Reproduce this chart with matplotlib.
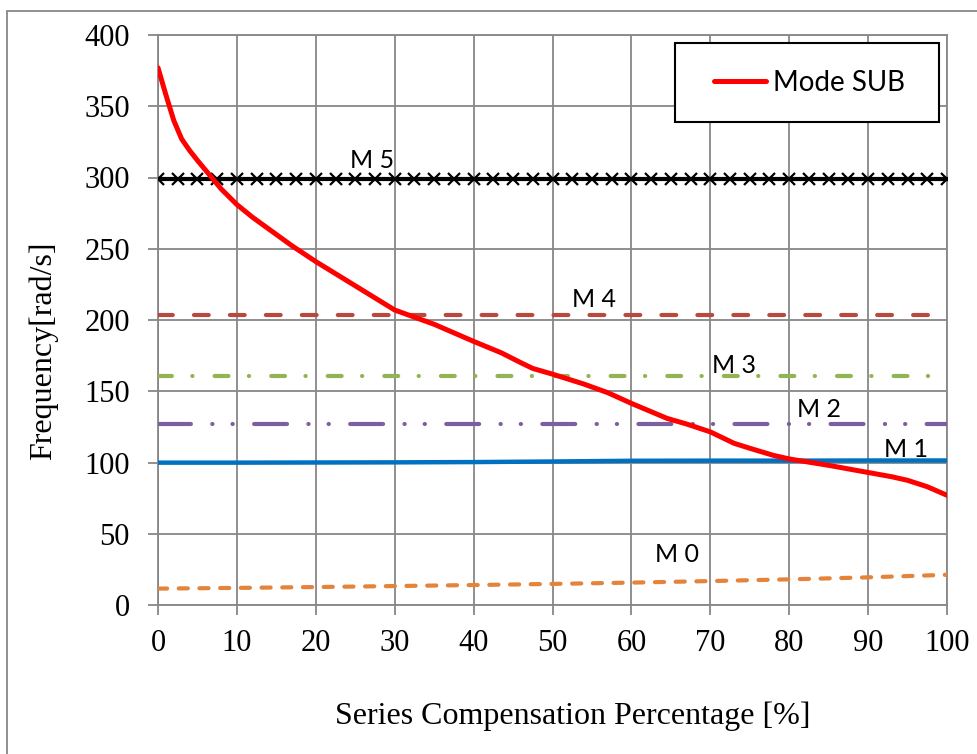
import matplotlib
matplotlib.use("Agg")
import matplotlib.pyplot as plt
from matplotlib.patches import Rectangle

# series compensation level [%]
comp = [0, 10, 20, 30, 40, 50, 60, 70, 80, 90, 100]

# torsional modes (rad/s)
m0 = [11.5, 12.0, 12.6, 13.3, 14.0, 14.8, 15.7, 16.8, 18.0, 19.4, 21.2]
m1 = [99.9, 99.9, 100.0, 100.1, 100.3, 100.7, 101.2, 101.3, 101.3, 101.4, 101.4]
m2 = [127.0, 127.0, 127.0, 127.0, 127.0, 127.0, 127.0, 127.0, 127.0, 127.0, 127.0]
m3 = [161.0, 161.0, 161.0, 161.0, 161.0, 161.0, 161.0, 161.0, 161.0, 161.0, 161.0]
m4 = [203.5, 203.5, 203.5, 203.5, 203.5, 203.5, 203.5, 203.5, 203.5, 203.5, 203.5]

# M5 was computed on a finer grid
comp_m5 = [0, 2.5, 5, 7.5, 10, 12.5, 15, 17.5, 20, 22.5, 25, 27.5, 30, 32.5,
           35, 37.5, 40, 42.5, 45, 47.5, 50, 52.5, 55, 57.5, 60, 62.5, 65,
           67.5, 70, 72.5, 75, 77.5, 80, 82.5, 85, 87.5, 90, 92.5, 95, 97.5, 100]
m5 = [299, 299, 299, 299, 299, 299, 299, 299, 299, 299, 299, 299, 299, 299,
      299, 299, 299, 299, 299, 299, 299, 299, 299, 299, 299, 299, 299,
      299, 299, 299, 299, 299, 299, 299, 299, 299, 299, 299, 299, 299, 299]

# subsynchronous electrical mode
comp_sub = [0, 1, 2, 3, 4, 5, 6.5, 8, 10, 12, 14, 17, 20, 25, 30, 32.5, 35,
            40, 43.5, 46, 47.5, 50, 54, 57, 60, 64.5, 67, 70, 73, 75, 78, 80,
            85, 90, 93, 95, 97.5, 100]
mode_sub = [377, 358, 340, 327, 319, 312, 302, 292, 281, 272, 264, 252, 241,
            224, 207, 202, 197, 185, 177, 170, 166, 162, 155, 149, 141.5, 131,
            127, 121.5, 113.5, 110, 105, 102.5, 98, 93, 90, 87.5, 83, 77]

mode_labels = ['M 0', 'M 1', 'M 2', 'M 3', 'M 4', 'M 5']
label_x = [65.8, 94.8, 83.8, 73.0, 55.3, 27.1]
label_y = [30.2, 103.9, 131.9, 162.8, 209.1, 306.7]

GRID = '#878787'
SERIF = 'Liberation Serif'
SANS = 'Lato'

fig = plt.figure(figsize=(9.77, 7.54), dpi=100)
ax = fig.add_axes([158 / 977, 1 - 605 / 754, 789 / 977, 570 / 754])

lw = 3.0
ax.plot(comp, m0, color='#E3843A', lw=lw, dash_capstyle='round',
        linestyle=(0, (2.19, 2.78)), zorder=3)
ax.plot(comp, m1, color='#0070C0', lw=3.2, solid_capstyle='butt', zorder=3)
ax.plot(comp, m2, color='#7D5F9F', lw=lw, dash_capstyle='round',
        linestyle=(0, (7.9, 5.13, 0.05, 4.8, 0.05, 5.13)), zorder=3)
ax.plot(comp, m3, color='#93B454', lw=lw, dash_capstyle='round',
        linestyle=(0, (3.33, 4.9, 0.05, 5.3)), zorder=3)
ax.plot(comp, m4, color='#B9483F', lw=lw, dash_capstyle='round',
        linestyle=(0, (3.55, 5.08)), zorder=3)
ax.plot(comp_m5, m5, color='black', lw=3.0, marker='x', markersize=8.5,
        markeredgewidth=1.6, zorder=3)
ax.plot(comp_sub, mode_sub, color='#FF0000', lw=3.6, solid_capstyle='round',
        solid_joinstyle='round', label='Mode SUB', zorder=4)

for txt, x, y in zip(mode_labels, label_x, label_y):
    ax.text(x, y, txt, family=SANS, fontsize=18, ha='center', va='baseline',
            zorder=6)

ax.set_xlim(0, 100)
ax.set_ylim(0, 400)
ax.set_xticks(range(0, 101, 10))
ax.set_yticks(range(0, 401, 50))
ax.grid(True, color=GRID, lw=1.3, zorder=1)
ax.set_axisbelow(True)
for side in ax.spines.values():
    side.set_color(GRID)
    side.set_linewidth(1.3)
ax.tick_params(axis='both', direction='out', length=7.2, width=1.3,
               color=GRID, labelsize=22)
ax.tick_params(axis='x', pad=10)
ax.tick_params(axis='y', pad=13)
for lab in ax.get_xticklabels() + ax.get_yticklabels():
    lab.set_family(SERIF)

ax.set_ylabel('Frequency[rad/s]', family=SERIF, fontsize=23)
ax.yaxis.set_label_coords(-0.127, (605 - 351) / 570)
fig.text(573 / 977, 1 - 716 / 754, 'Series Compensation Percentage [%]',
         family=SERIF, fontsize=23, ha='center', va='center')

# legend box, then the entry inside it
ax.add_patch(Rectangle((0.6553, 0.8474), 0.3346, 0.1386,
                       transform=ax.transAxes, facecolor='white',
                       edgecolor='black', lw=1.5, zorder=5, clip_on=False))
leg = ax.legend(loc='center left', bbox_to_anchor=(0.7053, 0.9163),
                frameon=False, borderpad=0, borderaxespad=0,
                handlelength=1.85, handletextpad=0.25,
                prop={'family': SANS, 'size': 20})
leg.set_zorder(6)

# outer chart frame
fig.patches.append(Rectangle((7 / 977, -0.1), 1.2, 1 - 11 / 754 + 0.1,
                             transform=fig.transFigure, fill=False,
                             edgecolor=GRID, lw=1.3))

fig.savefig('out.png', dpi=100)
